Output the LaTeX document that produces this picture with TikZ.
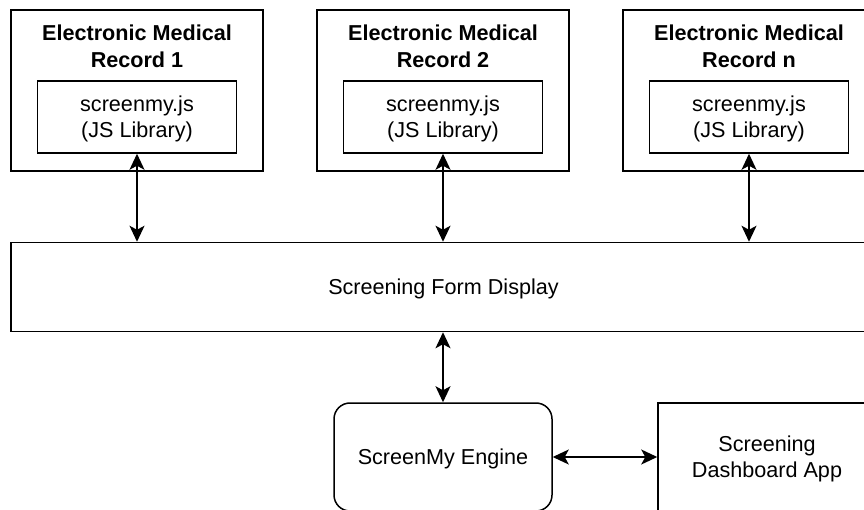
\documentclass[tikz,border=0pt]{standalone}
\usepackage{fontspec}
\setmainfont{Liberation Sans}
\usetikzlibrary{arrows.meta}
\begin{document}
\begin{tikzpicture}[x=1pt,y=-1pt,
  box/.style={draw, line width=1.5pt, rectangle, inner sep=0pt},
  rbox/.style={box, rounded corners=16pt},
  txt/.style={align=center, font=\fontsize{21.6}{26}\selectfont, inner sep=0pt, yshift=-2pt},
  ttl/.style={align=center, font=\fontsize{21.6}{27}\selectfont\bfseries, inner sep=0pt},
  biarrow/.style={line width=1.5pt, {Stealth[length=16pt,width=15pt,inset=4pt]}-{Stealth[length=16pt,width=15pt,inset=4pt]}}
]
\useasboundingbox (0,0) rectangle (864,510);
\clip (0,0) rectangle (864,510);
\fill[white] (0,0) rectangle (864,510);

% EMR outer boxes
\node[box, minimum width=252pt, minimum height=161pt] (emr1) at (137,90.5) {};
\node[box, minimum width=252pt, minimum height=161pt] (emr2) at (443,90.5) {};
\node[box, minimum width=252pt, minimum height=161pt] (emrn) at (749,90.5) {};

% titles
\node[ttl] (t1) at (137,46.5) {Electronic Medical\\Record 1};
\node[ttl] (t2) at (443,46.5) {Electronic Medical\\Record 2};
\node[ttl] (tn) at (749,46.5) {Electronic Medical\\Record n};

% libraries
\node[box, minimum width=199pt, minimum height=72pt] (lib1) at (137,117) {};
\node[box, minimum width=199pt, minimum height=72pt] (lib2) at (443,117) {};
\node[box, minimum width=199pt, minimum height=72pt] (libn) at (749,117) {};
\node[txt] at (lib1) {screenmy.js\\(JS Library)};
\node[txt] at (lib2) {screenmy.js\\(JS Library)};
\node[txt] at (libn) {screenmy.js\\(JS Library)};

% form display
\node[box, minimum width=865pt, minimum height=89pt] (form) at (443.5,287) {};
\node[txt] at (form) {Screening Form Display};

% engine and dashboard
\node[rbox, minimum width=218pt, minimum height=108pt] (engine) at (443,457) {};
\node[txt] at (engine) {ScreenMy Engine};
\node[box, minimum width=218pt, minimum height=108pt] (dash) at (767,457) {};
\node[txt] at (dash) {Screening\\Dashboard App};

% connectors
\draw[biarrow] (lib1.south) -- (lib1.south |- form.north);
\draw[biarrow] (lib2.south) -- (lib2.south |- form.north);
\draw[biarrow] (libn.south) -- (libn.south |- form.north);
\draw[biarrow] (form.south -| engine.north) -- (engine.north);
\draw[biarrow] (engine.east) -- (dash.west);
\end{tikzpicture}
\end{document}
